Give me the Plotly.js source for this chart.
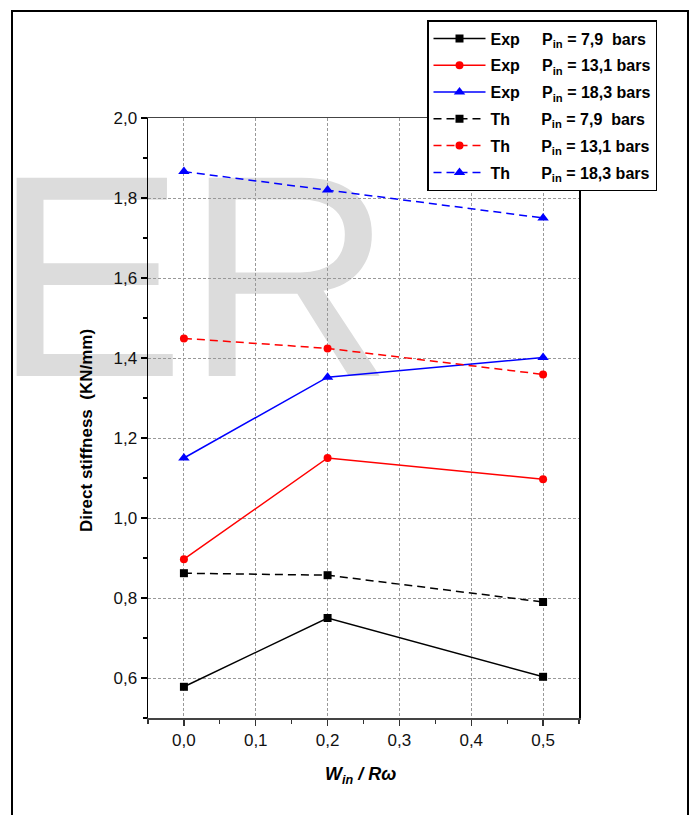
<!DOCTYPE html>
<html>
<head>
<meta charset="utf-8">
<script src="https://cdn.plot.ly/plotly-3.0.1.min.js"></script>
<style>
  html, body { margin: 0; padding: 0; background: #fff; }
  #chart { width: 696px; height: 815px; }
</style>
</head>
<body>
<div id="chart"></div>
<script>
// ---- data ----
const xValues = [0.0, 0.2, 0.5];
const expP79  = [0.578, 0.750, 0.603];
const expP131 = [0.897, 1.150, 1.097];
const expP183 = [1.150, 1.352, 1.401];
const thP79   = [0.862, 0.857, 0.790];
const thP131  = [1.449, 1.424, 1.359];
const thP183  = [1.866, 1.820, 1.750];
const seriesNames = [
  "Exp\u00a0\u00a0\u00a0\u00a0\u00a0P<sub>in</sub> = 7,9\u00a0\u00a0bars",
  "Exp\u00a0\u00a0\u00a0\u00a0\u00a0P<sub>in</sub> = 13,1 bars",
  "Exp\u00a0\u00a0\u00a0\u00a0\u00a0P<sub>in</sub> = 18,3 bars",
  "Th\u00a0\u00a0\u00a0\u00a0\u00a0\u00a0\u00a0P<sub>in</sub> = 7,9\u00a0\u00a0bars",
  "Th\u00a0\u00a0\u00a0\u00a0\u00a0\u00a0\u00a0P<sub>in</sub> = 13,1 bars",
  "Th\u00a0\u00a0\u00a0\u00a0\u00a0\u00a0\u00a0P<sub>in</sub> = 18,3 bars"
];
const xTitle = "<b><i>W<sub>in</sub> / R\u03c9</i></b>";
const yTitle = "<b>Direct stiffness\u00a0\u00a0(KN/mm)</b>";
const watermark = "ER";

// ---- styles ----
const series = [expP79, expP131, expP183, thP79, thP131, thP183];
const colors = ["#000000", "#ff0000", "#0000ff", "#000000", "#ff0000", "#0000ff"];
const symbols = ["square", "circle", "triangle-up", "square", "circle", "triangle-up"];
const sizes = [8, 8, 10, 8, 8, 10];
const dashes = ["solid", "solid", "solid", "8px,5px", "8px,5px", "8px,5px"];

const traces = series.map((ys, i) => ({
  type: "scatter",
  mode: "lines+markers",
  x: xValues,
  y: ys,
  name: seriesNames[i],
  legendgroup: "g" + i,
  line: { color: colors[i], width: 1.5, dash: dashes[i] },
  marker: { color: colors[i], symbol: symbols[i], size: sizes[i] }
}));

const L = 148, R = 117, T = 118, B = 97;
const W = 696, H = 815;
const pw = W - L - R, ph = H - T - B;
const px = v => (v - L) / pw;
const py = v => (H - B - v) / ph;

const font = "Liberation Sans";

const layout = {
  width: W, height: H,
  margin: { l: L, r: R, t: T, b: B },
  paper_bgcolor: "#ffffff",
  plot_bgcolor: "rgba(0,0,0,0)",
  separators: ",.",
  font: { family: font, size: 15, color: "#000" },
  showlegend: true,
  legend: {
    x: px(427), y: py(20), xanchor: "left", yanchor: "top",
    bgcolor: "#ffffff", bordercolor: "#000", borderwidth: 1.5,
    font: { family: font, size: 16, color: "#000", weight: "bold" },
    traceorder: "grouped", tracegroupgap: 3, itemwidth: 52
  },
  xaxis: {
    range: [-0.05, 0.55], dtick: 0.1, tick0: 0, tickformat: ".1f",
    ticks: "outside", ticklen: 6, tickwidth: 1.2, tickcolor: "#333",
    showline: true, linecolor: "#444", linewidth: 1.5, mirror: true,
    showgrid: true, gridcolor: "#999", gridwidth: 1, griddash: "3px,2px",
    zeroline: false,
    minor: { dtick: 0.05, tick0: 0, ticks: "outside", ticklen: 4, tickcolor: "#333", showgrid: false },
    tickfont: { family: font, size: 17, color: "#111" },
    title: { text: "" },
    automargin: false
  },
  yaxis: {
    range: [0.5, 2.0], dtick: 0.2, tick0: 0, tickformat: ".1f",
    ticks: "outside", ticklen: 6, tickwidth: 1.2, tickcolor: "#000",
    showline: true, linecolor: "#000", linewidth: 1.5, mirror: true,
    showgrid: true, gridcolor: "#999", gridwidth: 1, griddash: "3px,2px",
    zeroline: false,
    minor: { dtick: 0.1, tick0: 0, ticks: "outside", ticklen: 4, tickcolor: "#000", showgrid: false },
    tickfont: { family: font, size: 17, color: "#111" },
    title: { text: "" },
    automargin: false
  },
  annotations: [
    { xref: "paper", yref: "paper", x: px(193), y: py(276), xanchor: "center", yanchor: "middle",
      text: watermark, showarrow: false, name: "watermark",
      font: { family: font, size: 288, color: "#dcdcdc" } },
    { xref: "paper", yref: "paper", x: px(86), y: py(431), xanchor: "center", yanchor: "middle",
      text: yTitle, textangle: -90, showarrow: false,
      font: { family: font, size: 17, color: "#000" } },
    { xref: "paper", yref: "paper", x: px(360), y: py(775), xanchor: "center", yanchor: "middle",
      text: xTitle, showarrow: false,
      font: { family: font, size: 18, color: "#000" } }
  ],
  shapes: [
    {
      type: "rect", xref: "paper", yref: "paper", layer: "above",
      x0: px(12), x1: px(688), y0: py(840), y1: py(11),
      line: { color: "#000", width: 2 }, fillcolor: "rgba(0,0,0,0)"
    }
  ]
};

Plotly.newPlot("chart", traces, layout, { displayModeBar: false, staticPlot: true }).then(gd => {
  // send the watermark text behind the plot contents
  const ann = gd.querySelector('.infolayer .annotation[data-index="0"]');
  const below = gd.querySelector('.main-svg .layer-below');
  if (ann && below) below.appendChild(ann);
});
</script>
</body>
</html>
